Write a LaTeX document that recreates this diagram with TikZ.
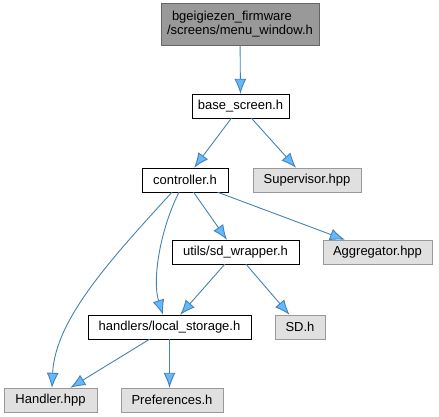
\documentclass[tikz,border=0pt]{standalone}
\usepackage{fontspec}
\setmainfont{Liberation Sans}
\usetikzlibrary{arrows.meta,positioning}
\definecolor{edgeblue}{HTML}{4682B4}
\definecolor{headblue}{HTML}{63B8FF}
\definecolor{extfill}{HTML}{E0E0E0}
\definecolor{extline}{HTML}{999999}
\definecolor{rootfill}{HTML}{999999}
\definecolor{rootline}{HTML}{666666}
\tikzset{
    dep/.style={draw=edgeblue, line width=0.9pt, -{Latex[length=15pt,width=12pt,fill=headblue]}}
}

\begin{document}
\begin{tikzpicture}[
    x=1pt, y=1pt,
    every node/.style={font=\fontsize{13}{14}\selectfont},
    file/.style={rectangle, draw=black, fill=white, inner xsep=0pt, inner ysep=0pt, minimum height=24pt},
    ext/.style={file, draw=extline, fill=extfill},
    root/.style={rectangle, draw=rootline, fill=rootfill, align=left, inner xsep=6pt, minimum height=42pt, minimum width=158pt}
]

\fill[white] (0,0) rectangle (439,-417);
\useasboundingbox (0,0) rectangle (439,-417);

\node[root] (menu) at (240,-24) {\hspace*{5pt}bgeigiezen\_firmware\\/screens/menu\_window.h};
\node[file, minimum width=97] (base) at (240.5,-106) {base\_screen.h};
\node[file, minimum width=86] (ctrl) at (185,-180) {controller.h};
\node[ext, minimum width=108] (sup) at (307,-180) {Supervisor.hpp};
\node[file, minimum width=127] (sdw) at (235.5,-252) {utils/sd\_wrapper.h};
\node[ext, minimum width=109] (agg) at (377.5,-252) {Aggregator.hpp};
\node[file, minimum width=163] (store) at (169.5,-327) {handlers/local\_storage.h};
\node[ext, minimum width=50] (sd) at (300,-327) {SD.h};
\node[ext, minimum width=93] (handler) at (50.5,-400) {Handler.hpp};
\node[ext, minimum width=102] (prefs) at (172,-400) {Preferences.h};

\draw[dep] (menu) -- (base);
\draw[dep] (base) -- (ctrl);
\draw[dep] (base) -- (sup);
\draw[dep] ([xshift=-13]ctrl.south) .. controls (110,-260) and (55,-320) .. ([xshift=1.5]handler.north);
\draw[dep] ([xshift=-6]ctrl.south) .. controls (160,-230) and (152,-280) .. ([xshift=-6.5]store.north);
\draw[dep] (ctrl) -- (sdw);
\draw[dep] (ctrl) -- (agg);
\draw[dep] (sdw) -- (store);
\draw[dep] (sdw) -- (sd);
\draw[dep] (store) -- (handler);
\draw[dep] (store.south) -- (store.south |- prefs.north);

\end{tikzpicture}
\end{document}
